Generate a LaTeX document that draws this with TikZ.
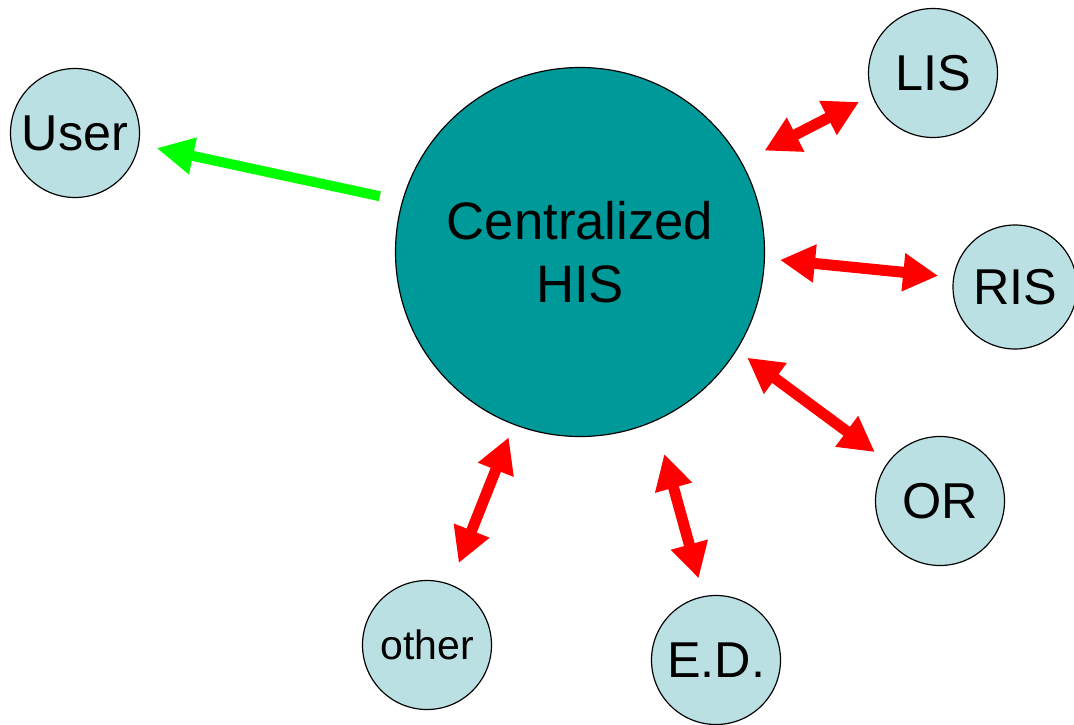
\documentclass[tikz,border=0pt]{standalone}
\usepackage{fontspec}
\setmainfont{Liberation Sans}
\usetikzlibrary{arrows.meta}
\definecolor{hubteal}{RGB}{0,153,153}
\definecolor{syslight}{RGB}{187,224,227}
\tikzset{
  sys/.style={circle,draw,line width=1pt,fill=syslight,minimum size=3.87cm,inner sep=0pt,outer sep=0pt,font=\fontsize{43}{48}\selectfont},
  hub/.style={circle,draw,line width=1pt,fill=hubteal,minimum size=11.07cm,inner sep=0pt,outer sep=0pt,align=center,font=\fontsize{45}{53.6}\selectfont},
  link/.style={red,line width=0.33cm,{Triangle[length=1.05cm,width=1.08cm]}-{Triangle[length=1.05cm,width=1.08cm]}},
  feed/.style={green,line width=0.3cm,-{Triangle[length=1.12cm,width=1.05cm]}}
}
\begin{document}
\begin{tikzpicture}[x=0.03cm,y=-0.03cm]
\useasboundingbox (0,0) rectangle (1074,724);

\node[hub] (his) at (580,252) {Centralized\\HIS};
\node[sys] (user) at (75,133) {User};
\node[sys] (lis) at (933,73) {LIS};
\node[sys,minimum size=3.72cm] (ris) at (1015,287) {RIS};
\node[sys] (or) at (940,501) {OR};
\node[sys] (ed) at (716,660) {E.D.};
\node[sys,font=\fontsize{35}{40}\selectfont] (other) at (427,645) {other};

\draw[feed,shorten <=0.7cm,shorten >=0.55cm] (his.164) -- (user.-10.5);
\draw[link,shorten <=0.78cm,shorten >=0.45cm] (his.29.6) -- (lis.200.5);
\draw[link,shorten <=0.47cm,shorten >=0.47cm] (his.-2.3) -- (ris.171.9);
\draw[link,shorten <=0.4cm,shorten >=0.51cm] (his.-32) -- (or.143);
\draw[link,shorten <=1.04cm,shorten >=0.57cm] (his.-66.6) -- (ed.101);
\draw[link,shorten <=0.42cm,shorten >=0.7cm] (his.-111.3) -- (other.69.3);
\end{tikzpicture}
\end{document}
